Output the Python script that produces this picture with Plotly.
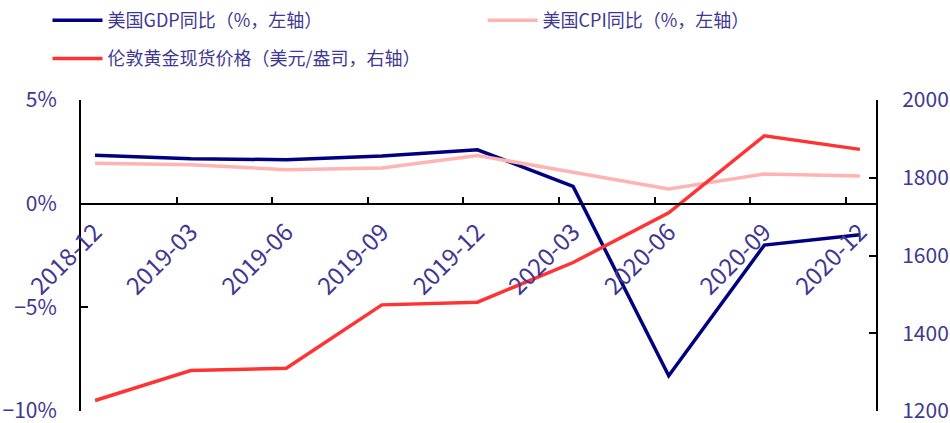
import plotly.graph_objects as go

# ---- data ----
categories = ["2018-12", "2019-03", "2019-06", "2019-09", "2019-12",
              "2020-03", "2020-06", "2020-09", "2020-12"]
gdp_yoy = [2.33, 2.17, 2.12, 2.30, 2.60, 0.83, -8.3, -2.0, -1.5]
cpi_yoy = [1.95, 1.88, 1.64, 1.72, 2.32, 1.52, 0.71, 1.43, 1.33]
gold_price = [1227, 1304, 1310, 1473, 1480, 1582, 1710, 1908, 1873]

name_gdp = "美国GDP同比（%，左轴）"
name_cpi = "美国CPI同比（%，左轴）"
name_gold = "伦敦黄金现货价格（美元/盎司，右轴）"

left_ticks = [-10, -5, 0, 5]
left_ticktext = [("−" if v < 0 else "") + f"{abs(v)}%" for v in left_ticks]
right_ticks = [1200, 1400, 1600, 1800, 2000]
right_ticktext = [str(v) for v in right_ticks]

# ---- styling ----
FONT = "Noto Sans CJK SC"
TXT = "#3f3893"
idx = list(range(len(categories)))
tick_off = 0.147  # tick marks sit slightly left of each point

fig = go.Figure()
fig.add_trace(go.Scatter(x=idx, y=gdp_yoy, name=name_gdp, mode="lines",
                         line=dict(color="#000080", width=3.5), legend="legend"))
fig.add_trace(go.Scatter(x=idx, y=cpi_yoy, name=name_cpi, mode="lines",
                         line=dict(color="#ffb3b3", width=3.5), legend="legend2"))
fig.add_trace(go.Scatter(x=idx, y=gold_price, name=name_gold, mode="lines",
                         yaxis="y2", line=dict(color="#ff3333", width=3.5),
                         legend="legend3"))

leg_common = dict(orientation="h", xref="container", yref="container",
                  xanchor="left", yanchor="top", itemwidth=50,
                  font=dict(size=18, color=TXT, family=FONT),
                  bgcolor="rgba(0,0,0,0)")

fig.update_layout(
    width=950, height=423,
    margin=dict(l=81, r=74, t=100, b=12, autoexpand=False),
    paper_bgcolor="white", plot_bgcolor="white",
    font=dict(family=FONT, color=TXT),
    xaxis=dict(
        range=[-tick_off, len(categories) - 1 + 0.168],
        tickvals=[i - tick_off for i in idx], ticktext=categories,
        tickangle=-45, ticks="inside", ticklen=6, tickwidth=2, tickcolor="black",
        showline=True, linecolor="black", linewidth=2,
        showgrid=False, zeroline=False, automargin=False,
        anchor="free", position=(0 - left_ticks[0]) / (left_ticks[-1] - left_ticks[0]),
        tickfont=dict(size=24, color=TXT, family=FONT),
        ticklabelshift=14, ticklabelstandoff=4,
    ),
    yaxis=dict(
        range=[left_ticks[0], left_ticks[-1]],
        tickmode="array", tickvals=left_ticks, ticktext=left_ticktext,
        ticks="inside", ticklen=7, tickwidth=2, tickcolor="black",
        showline=True, linecolor="black", linewidth=2,
        showgrid=False, zeroline=False, automargin=False,
        tickfont=dict(size=21, color=TXT, family=FONT),
        ticklabelstandoff=18, ticklabeloverflow="allow",
    ),
    yaxis2=dict(
        range=[right_ticks[0], right_ticks[-1]],
        tickmode="array", tickvals=right_ticks, ticktext=right_ticktext,
        overlaying="y", side="right",
        ticks="inside", ticklen=7, tickwidth=2, tickcolor="black",
        showline=True, linecolor="black", linewidth=2,
        showgrid=False, zeroline=False, automargin=False,
        tickfont=dict(size=21, color=TXT, family=FONT),
        ticklabelstandoff=20, ticklabeloverflow="allow",
    ),
    legend=dict(x=0.05, y=0.995, **leg_common),
    legend2=dict(x=0.508, y=0.995, **leg_common),
    legend3=dict(x=0.05, y=0.905, **leg_common),
    showlegend=True,
)

fig.write_html("out.html")
